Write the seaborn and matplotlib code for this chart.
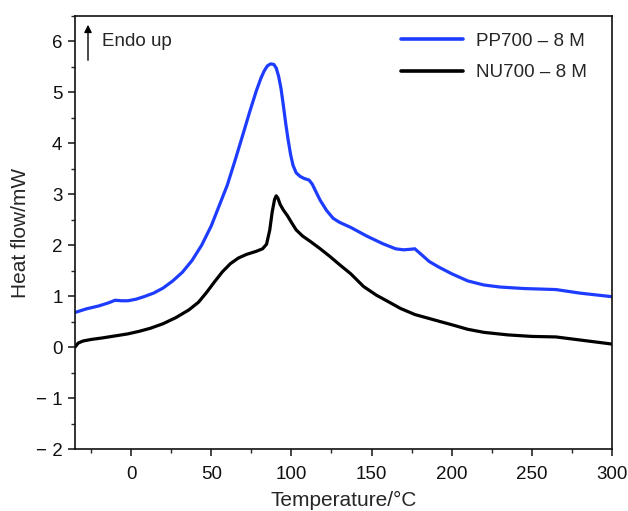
import numpy as np
import pandas as pd
import matplotlib
matplotlib.use("Agg")
import matplotlib.pyplot as plt
from matplotlib.ticker import FixedLocator, FixedFormatter, MultipleLocator
import seaborn as sns

# ---- data ----
pp_temp = [-35, -28, -20, -14, -10, -6, -2, 3, 8, 14, 20, 26, 32, 38, 44, 50, 55, 60, 65, 70,
           74, 78, 81, 83, 85, 87, 89, 90.5, 92, 93.5, 95, 96.5, 98, 99.5, 101, 103, 105.5,
           108, 111, 113, 115, 118, 122, 126, 130, 137, 147, 157, 165, 170, 174, 177, 181, 186,
           192, 200, 210, 220, 230, 245, 265, 280, 300]
pp_flow = [0.68, 0.75, 0.81, 0.87, 0.92, 0.91, 0.91, 0.94, 0.99, 1.06, 1.16, 1.30, 1.47, 1.70,
           2.00, 2.38, 2.78, 3.18, 3.68, 4.20, 4.62, 5.02, 5.28, 5.42, 5.52, 5.56, 5.55, 5.48,
           5.32, 5.08, 4.74, 4.38, 4.06, 3.78, 3.57, 3.42, 3.35, 3.31, 3.28, 3.20, 3.07, 2.88,
           2.68, 2.53, 2.45, 2.35, 2.18, 2.03, 1.93, 1.91, 1.92, 1.93, 1.82, 1.68, 1.57, 1.44,
           1.30, 1.22, 1.18, 1.15, 1.13, 1.06, 0.99]

nu_temp = [-35, -33, -30, -25, -18, -10, -2, 5, 12, 20, 28, 36, 42, 47, 52, 57, 62, 67, 72, 78,
           82, 84.5, 86.5, 88, 89.5, 90.5, 91.5, 93, 95, 97.5, 100, 103, 107, 112, 118, 124,
           130, 137, 145, 153, 160, 168, 177, 185, 193, 200, 210, 220, 235, 250, 265, 280, 300]
nu_flow = [0.00, 0.08, 0.12, 0.15, 0.18, 0.22, 0.26, 0.31, 0.37, 0.46, 0.58, 0.73, 0.88, 1.07,
           1.28, 1.48, 1.64, 1.75, 1.82, 1.88, 1.93, 2.02, 2.30, 2.65, 2.90, 2.97, 2.93, 2.80,
           2.69, 2.58, 2.45, 2.30, 2.18, 2.07, 1.93, 1.78, 1.62, 1.44, 1.19, 1.02, 0.90, 0.76,
           0.64, 0.57, 0.50, 0.44, 0.35, 0.29, 0.24, 0.21, 0.20, 0.14, 0.06]

series_names = ["PP700 \u2013 8 M", "NU700 \u2013 8 M"]
x_ticks = [0, 50, 100, 150, 200, 250, 300]
x_tick_labels = ["0", "50", "100", "150", "200", "250", "300"]
y_ticks = [-2, -1, 0, 1, 2, 3, 4, 5, 6]
y_tick_labels = ["\u2212 2", "\u2212 1", "0", "1", "2", "3", "4", "5", "6"]

df = pd.concat([
    pd.DataFrame({"T": pp_temp, "HF": pp_flow, "s": series_names[0]}),
    pd.DataFrame({"T": nu_temp, "HF": nu_flow, "s": series_names[1]}),
], ignore_index=True)

sns.set_style("ticks")
plt.rcParams["font.family"] = ["Liberation Sans", "DejaVu Sans"]

fig = plt.figure(figsize=(6.28, 5.11), dpi=100)
ax = fig.add_axes([75 / 628, 62 / 511, 537 / 628, 433 / 511])

sns.lineplot(data=df, x="T", y="HF", hue="s", hue_order=series_names,
             palette=["#1E3CFF", "#000000"], sort=True, linewidth=2.3, ax=ax,
             solid_joinstyle="round", solid_capstyle="round")

ax.set_xlim(-35, 300)
ax.set_ylim(-2, 6.5)

ax.xaxis.set_major_locator(FixedLocator(x_ticks))
ax.xaxis.set_major_formatter(FixedFormatter(x_tick_labels))
ax.xaxis.set_minor_locator(MultipleLocator(25))
ax.yaxis.set_major_locator(FixedLocator(y_ticks))
ax.yaxis.set_major_formatter(FixedFormatter(y_tick_labels))
ax.yaxis.set_minor_locator(MultipleLocator(0.5))

ax.tick_params(which="major", direction="out", length=5, width=1.1, labelsize=13.5,
               colors="#111111", top=False, right=False)
ax.tick_params(which="minor", direction="out", length=3, width=1.0, top=False, right=False)
ax.tick_params(axis="x", pad=7)
ax.tick_params(axis="y", pad=4)

for sp in ax.spines.values():
    sp.set_linewidth(1.2)
    sp.set_color("#111111")
    sp.set_visible(True)

ax.set_xlabel("Temperature/\u00b0C", fontsize=15, labelpad=6)
ax.set_ylabel("Heat flow/mW", fontsize=15, labelpad=4)

leg = ax.legend(loc="upper right", bbox_to_anchor=(0.985, 1.0), frameon=False,
                fontsize=13.5, handlelength=3.3, handletextpad=0.7, labelspacing=0.75)
for line in leg.get_lines():
    line.set_linewidth(2.6)

ax.annotate("", xy=(88, 511 - 22), xycoords="figure pixels", xytext=(88, 511 - 63),
            textcoords="figure pixels",
            arrowprops=dict(arrowstyle="-|>", color="black", lw=1.0, mutation_scale=11))
fig.text(102 / 628, 1 - 41 / 511, "Endo up", fontsize=13.5, va="center", ha="left")

fig.savefig("out.png", dpi=100)
